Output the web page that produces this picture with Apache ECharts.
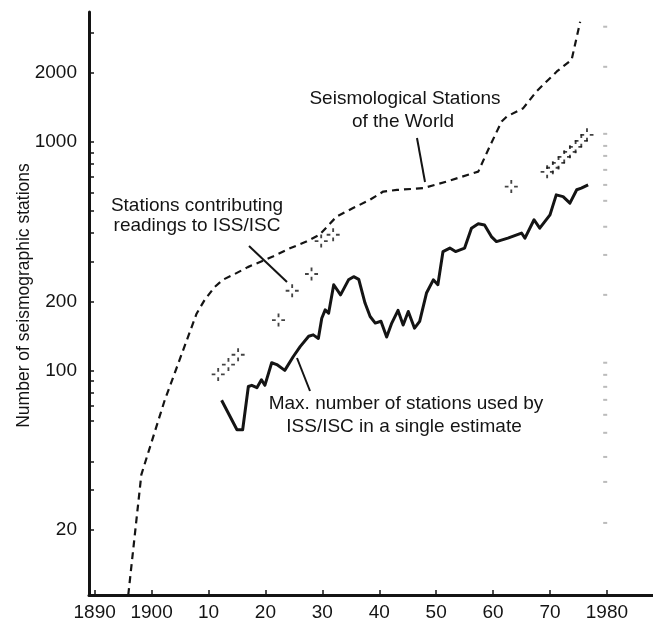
<!DOCTYPE html>
<html><head><meta charset="utf-8">
<script src="https://cdn.jsdelivr.net/npm/echarts@6/dist/echarts.min.js"></script>
<style>html,body{margin:0;padding:0;background:#fff}#c{width:653px;height:625px}</style>
</head><body><div id="c"></div>
<script>
// Seismological Stations of the World (dashed)
const worldYears  = [1895.9, 1898.2, 1902.3, 1907.9, 1909.3, 1911.1, 1912.5, 1914.6, 1916.9, 1921.3, 1924.3, 1927.2, 1929.5, 1932.5, 1935.4, 1938.3, 1940.7, 1943.1, 1947.7, 1951.8, 1957.4, 1959.4, 1961.5, 1962.4, 1965.3, 1967.6, 1971.2, 1973.8, 1975.3];
const worldValues = [10.4, 35, 74, 177, 203, 232, 249, 264, 283, 315, 342, 366, 392, 471, 513, 557, 606, 616, 627, 670, 741, 954, 1227, 1290, 1404, 1660, 2032, 2286, 3350];

// Max. number of stations used by ISS/ISC in a single estimate (solid)
const maxYears  = [1912.3, 1915.0, 1916.0, 1917.0, 1917.6, 1918.5, 1919.3, 1919.9, 1921.1, 1922.0, 1923.4, 1924.9, 1926.1, 1927.6, 1928.4, 1929.3, 1929.9, 1930.5, 1931.1, 1932.0, 1933.2, 1934.6, 1935.5, 1936.4, 1937.5, 1938.4, 1939.3, 1940.3, 1941.3, 1942.2, 1943.3, 1944.2, 1945.1, 1946.2, 1947.1, 1948.3, 1949.5, 1950.3, 1951.2, 1952.4, 1953.4, 1955.0, 1956.2, 1957.4, 1958.5, 1959.7, 1960.6, 1962.6, 1965.0, 1965.6, 1967.2, 1968.2, 1970.0, 1971.1, 1972.3, 1973.5, 1974.7, 1975.5, 1976.7];
const maxValues = [74, 55, 55, 85, 86, 84, 91, 86, 108, 106, 100, 115, 127, 141, 143, 138, 169, 184, 178, 237, 214, 249, 257, 250, 197, 172, 161, 164, 140, 161, 183, 158, 181, 153, 164, 218, 249, 237, 331, 343, 331, 343, 419, 438, 433, 385, 366, 379, 399, 379, 456, 419, 479, 586, 576, 539, 617, 627, 648];

// Stations contributing readings to ISS/ISC (dotted crosses)
const contribYears  = [1911.7, 1913.5, 1915.2, 1922.3, 1924.7, 1928.1, 1929.8, 1931.9, 1963.2, 1969.5, 1970.5, 1971.5, 1972.5, 1973.5, 1974.5, 1975.5, 1976.5];
const contribValues = [96, 106, 117, 166, 223, 264, 368, 392, 637, 739, 770, 809, 860, 904, 951, 1010, 1073];

// Axis ticks and labels
const xTickValues = [1890, 1900, 1910, 1920, 1930, 1940, 1950, 1960, 1970, 1980];
const xTickLabels = ['1890', '1900', '10', '20', '30', '40', '50', '60', '70', '1980'];
const yLabelValues = [20, 100, 200, 1000, 2000];
const yTickValues = [20, 30, 40, 60, 70, 80, 90, 100, 200, 300, 400, 500, 600, 700, 800, 900, 1000, 2000, 3000];

// faint show-through tick marks near the right edge
const ghostYear = 1979.7;
const ghostValues = [3190, 2130, 1084, 960, 868, 754, 648, 552, 425, 320, 214, 108, 95.6, 84.7, 74.3, 63.9, 53.3, 41.8, 32.5, 21.5];

const zip = (a, b) => a.map((v, i) => [v, b[i]]);
const FONT = 'Liberation Sans, Arial, Helvetica, sans-serif';
const INK = '#141414';

const chart = echarts.init(document.getElementById('c'), null, {renderer: 'canvas'});
chart.setOption({
  backgroundColor: '#ffffff',
  animation: false,
  grid: {left: 89, right: 0, top: 12, bottom: 30, containLabel: false},
  xAxis: {
    type: 'value', min: 1889, max: 1988.1,
    splitLine: {show: false},
    axisLine: {lineStyle: {color: INK, width: 3}},
    axisTick: {inside: true, length: 5, lineStyle: {color: INK, width: 1.5}, customValues: xTickValues},
    axisLabel: {
      customValues: xTickValues, margin: 8, color: INK, fontSize: 19, fontFamily: FONT,
      formatter: v => xTickLabels[xTickValues.indexOf(Math.round(v))] || ''
    }
  },
  yAxis: {
    type: 'log', logBase: 10, min: 10.4, max: 3700,
    name: 'Number of seismographic stations', nameLocation: 'middle', nameRotate: 90, nameGap: 56,
    nameMoveOverlap: false,
    nameTextStyle: {color: INK, fontSize: 17.5, fontFamily: FONT, padding: [0, 0, 0, 16]},
    splitLine: {show: false},
    axisLine: {lineStyle: {color: INK, width: 3}},
    axisTick: {inside: true, length: 5, lineStyle: {color: INK, width: 1.5}, customValues: yTickValues},
    axisLabel: {customValues: yLabelValues, margin: 12, color: INK, fontSize: 19, fontFamily: FONT,
      formatter: v => String(Math.round(v))}
  },
  series: [
    {
      name: 'Seismological Stations of the World', type: 'line', data: zip(worldYears, worldValues),
      showSymbol: false, symbol: 'none', clip: false,
      lineStyle: {color: INK, width: 2.2, type: [7, 5]}
    },
    {
      name: 'Max. number of stations used by ISS/ISC in a single estimate', type: 'line', data: zip(maxYears, maxValues),
      showSymbol: false, symbol: 'none',
      lineStyle: {color: INK, width: 3, join: 'round'}
    },
    {
      name: 'Stations contributing readings to ISS/ISC', type: 'scatter', data: zip(contribYears, contribValues),
      symbol: 'path://M6,0H8V4H6Z M6,10H8V14H6Z M0,6H4V8H0Z M10,6H14V8H10Z', symbolSize: 13,
      itemStyle: {color: INK}
    },
    {
      name: 'edge', type: 'scatter', data: ghostValues.map(v => [ghostYear, v]), silent: true,
      symbol: 'rect', symbolSize: [4, 2], itemStyle: {color: '#aaaaaa'}
    }
  ],
  graphic: [
    {type: 'text', style: {text: 'Seismological Stations', x: 405, y: 99, align: 'center', verticalAlign: 'middle', fill: INK, font: '19px ' + FONT}},
    {type: 'text', style: {text: 'of the World', x: 403, y: 122, align: 'center', verticalAlign: 'middle', fill: INK, font: '19px ' + FONT}},
    {type: 'line', shape: {x1: 417, y1: 138, x2: 425, y2: 182}, style: {stroke: INK, lineWidth: 2}},
    {type: 'text', style: {text: 'Stations contributing', x: 197, y: 206, align: 'center', verticalAlign: 'middle', fill: INK, font: '19px ' + FONT}},
    {type: 'text', style: {text: 'readings to ISS/ISC', x: 197, y: 226, align: 'center', verticalAlign: 'middle', fill: INK, font: '19px ' + FONT}},
    {type: 'line', shape: {x1: 249, y1: 246, x2: 287, y2: 282}, style: {stroke: INK, lineWidth: 2}},
    {type: 'text', style: {text: 'Max. number of stations used by', x: 406, y: 404, align: 'center', verticalAlign: 'middle', fill: INK, font: '19px ' + FONT}},
    {type: 'text', style: {text: 'ISS/ISC in a single estimate', x: 404, y: 427, align: 'center', verticalAlign: 'middle', fill: INK, font: '19px ' + FONT}},
    {type: 'line', shape: {x1: 297, y1: 358, x2: 310, y2: 391}, style: {stroke: INK, lineWidth: 2}}
  ]
});
</script>
</body></html>
